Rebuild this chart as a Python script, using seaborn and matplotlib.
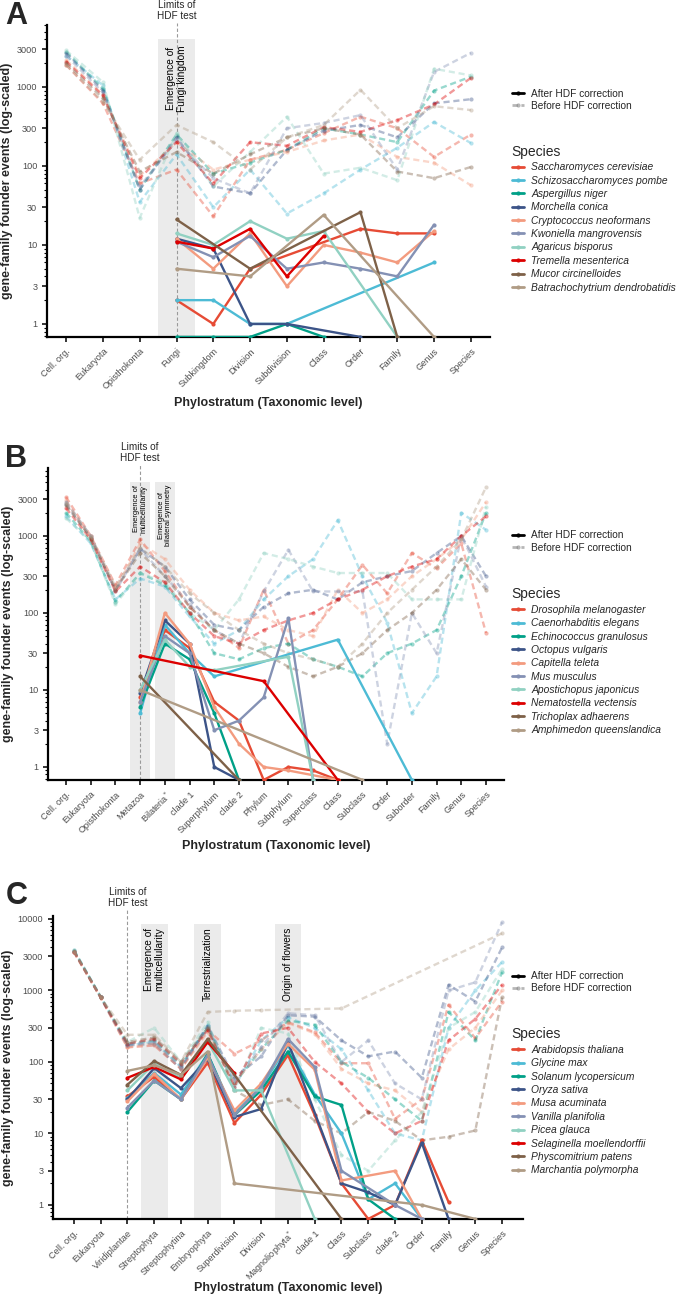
import numpy as np
import pandas as pd
import matplotlib
matplotlib.use("Agg")
import matplotlib.pyplot as plt
import matplotlib.transforms as mtransforms
import seaborn as sns
from matplotlib.lines import Line2D
from matplotlib.ticker import FixedLocator, LogLocator, NullFormatter

sns.set_theme(style="ticks")
plt.rcParams['font.family'] = ['Liberation Sans', 'DejaVu Sans']

n = np.nan
npg = ["#E64B35", "#4DBBD5", "#00A087", "#3C5488", "#F39B7F",
       "#8491B4", "#91D1C2", "#DC0000", "#7E6148", "#B09C85"]

# ---------------- Panel A : fungi ----------------
levels_a = ["Cell. org.", "Eukaryota", "Opisthokonta", "Fungi", "Subkingdom", "Division",
            "Subdivision", "Class", "Order", "Family", "Genus", "Species"]
species_a = ["Saccharomyces cerevisiae", "Schizosaccharomyces pombe", "Aspergillus niger",
             "Morchella conica", "Cryptococcus neoformans", "Kwoniella mangrovensis",
             "Agaricus bisporus", "Tremella mesenterica", "Mucor circinelloides",
             "Batrachochytrium dendrobatidis"]
after_a = [
    [n, n, n, 2, 1, 5, n, n, 16, 14, 14, n],
    [n, n, n, 2, 2, 1, 1, n, n, n, 6, n],
    [n, n, n, 0, 0, 0, 1, 0, n, n, n, n],
    [n, n, n, 12, 9, 1, 1, n, 0, n, n, n],
    [n, n, n, 12, 5, 14, 3, 10, 8, 6, 15, n],
    [n, n, n, 11, 7, 13, 5, 6, 5, 4, 18, n],
    [n, n, n, 14, 10, 20, 12, 15, n, 0, n, n],
    [n, n, n, 11, 9, 16, 4, 13, n, n, n, n],
    [n, n, n, 21, n, 5, n, n, 26, 0, n, n],
    [n, n, n, 5, n, 4, n, 24, n, n, 0, n],
]
before_a = [
    [1900, 620, 60, 90, 23, 120, 160, 260, 420, 300, 130, 250],
    [2500, 1050, 35, 140, 30, 90, 25, 45, 90, 170, 360, 195],
    [2800, 950, 50, 250, 80, 110, 160, 300, 250, 200, 900, 1350],
    [2700, 900, 50, 230, 55, 45, 160, 280, 330, 230, 620, 700],
    [2200, 800, 75, 200, 90, 120, 150, 210, 250, 130, 110, 57],
    [2500, 850, 55, 210, 70, 45, 300, 350, 440, 90, 1550, 2700],
    [2900, 1150, 22, 260, 55, 150, 420, 80, 95, 66, 1700, 1400],
    [2100, 780, 70, 200, 60, 200, 180, 310, 270, 380, 600, 1300],
    [2000, 720, 85, 150, 80, 140, 230, 300, 250, 85, 70, 97],
    [1900, 650, 120, 330, 200, 90, 230, 330, 920, 300, 570, 510],
]

# ---------------- Panel B : animals ----------------
levels_b = ["Cell. org.", "Eukaryota", "Opisthokonta", "Metazoa", "Bilateria$^{*}$", "clade 1",
            "Superphylum", "clade 2", "Phylum", "Subphylum", "Superclass", "Class",
            "Subclass", "Order", "Suborder", "Family", "Genus", "Species"]
species_b = ["Drosophila melanogaster", "Caenorhabditis elegans", "Echinococcus granulosus",
             "Octopus vulgaris", "Capitella teleta", "Mus musculus", "Apostichopus japonicus",
             "Nematostella vectensis", "Trichoplax adhaerens", "Amphimedon queenslandica"]
after_b = [
    [n, n, n, 8, 60, 35, 7, 4, 0, 1, 0.9, 0, n, n, n, n, n, n],
    [n, n, n, 5, 70, 30, 15, n, n, n, n, 45, n, n, 0, n, n, n],
    [n, n, n, 6, 40, 25, 5, 0, n, n, n, n, n, n, n, n, n, n],
    [n, n, n, 9, 80, 40, 1, 0, n, n, n, n, n, n, n, n, n, n],
    [n, n, n, 7, 100, 40, 6, 2, 1, 0.9, n, 0, n, n, n, n, n, n],
    [n, n, n, 7, 50, 30, 3, 4, 8, 85, 0, n, n, n, n, n, n, n],
    [n, n, n, 10, 45, 20, 18, n, n, 27, 0, n, n, n, n, n, n, n],
    [n, n, n, 28, n, n, n, n, 13, n, n, 0, n, n, n, n, n, n],
    [n, n, n, 15, n, n, n, 0, n, n, n, n, n, n, n, n, n, n],
    [n, n, n, 10, n, n, n, n, n, n, n, n, 0, n, n, n, n, n],
]
before_b = [
    [3200, 1000, 230, 900, 350, 120, 60, 35, 200, 40, 60, 150, 420, 180, 600, 380, 800, 55],
    [1800, 800, 150, 280, 220, 90, 40, 60, 150, 300, 500, 1600, 300, 75, 5, 15, 2000, 1200],
    [2000, 850, 140, 330, 230, 100, 30, 25, 35, 40, 25, 20, 15, 30, 40, 60, 300, 2000],
    [2600, 950, 200, 680, 400, 150, 70, 60, 120, 180, 200, 150, 250, 300, 350, 600, 1000, 300],
    [2900, 900, 200, 800, 500, 200, 100, 80, 90, 60, 50, 200, 100, 150, 300, 500, 900, 2750],
    [2800, 1000, 190, 680, 300, 130, 60, 40, 190, 660, 190, 190, 190, 2, 100, 30, 1000, 220],
    [1700, 850, 130, 330, 250, 100, 60, 150, 600, 500, 400, 330, 330, 330, 150, 150, 150, 2400],
    [2300, 900, 190, 400, 250, 100, 50, 40, 60, 80, 100, 150, 200, 300, 400, 500, 1000, 1800],
    [2500, 950, 200, 600, 300, 120, 60, 40, 30, 20, 15, 20, 30, 60, 100, 200, 500, 200],
    [2700, 1000, 220, 700, 400, 180, 100, 60, 40, 30, 25, 20, 40, 100, 200, 400, 900, 4300],
]

# ---------------- Panel C : plants ----------------
levels_c = ["Cell. org.", "Eukaryota", "Viridiplantae", "Streptophyta", "Streptophytina",
            "Embryophyta", "Superdivision", "Division", "Magnoliophyta$^{*}$", "clade 1",
            "Class", "Subclass", "clade 2", "Order", "Family", "Genus", "Species"]
species_c = ["Arabidopsis thaliana", "Glycine max", "Solanum lycopersicum", "Oryza sativa",
             "Musa acuminata", "Vanilla planifolia", "Picea glauca",
             "Selaginella moellendorffii", "Physcomitrium patens", "Marchantia polymorpha"]
after_c = [
    [n, n, 33, 62, 30, 98, 14, 35, 125, 18, 2, 0, 1, 8, 1.1, n, n],
    [n, n, 31, 70, 35, 130, 19, 45, 170, 35, 10, 1.2, 2, 0, n, n, n],
    [n, n, 20, 55, 30, 130, 18, 40, 140, 33, 25, 1.2, 0, n, n, n, n],
    [n, n, 30, 82, 43, 110, 17, 22, 190, n, 2, 1.5, 1.0, 7.4, 0, n, n],
    [n, n, 28, 68, 30, 115, 21, 50, 180, 78, 2.2, n, 3, 0, n, n, n],
    [n, n, 23, 55, 30, 125, 18, 45, 210, 85, 3, n, 1, 0, n, n, n],
    [n, n, 40, 95, 60, 195, 40, 40, n, 0, n, n, n, n, n, n, n],
    [n, n, 60, 85, 57, 190, 70, n, n, n, n, n, n, n, n, n, n],
    [n, n, 48, 103, 66, 210, n, n, n, n, 0, n, n, n, n, n, n],
    [n, n, 75, 90, 66, 140, 2, n, n, n, n, n, n, 1, n, 0, n],
]
before_c = [
    [3500, 800, 160, 170, 80, 280, 130, 200, 360, 260, 96, 96, 16, 30, 630, 215, 700],
    [3700, 820, 170, 190, 85, 330, 45, 200, 420, 300, 150, 40, 10, 8, 300, 1000, 2500],
    [3600, 810, 180, 200, 90, 300, 50, 150, 380, 330, 100, 60, 30, 15, 500, 200, 1800],
    [3500, 800, 170, 180, 80, 320, 60, 120, 450, 430, 200, 120, 140, 60, 1200, 700, 4000],
    [3400, 790, 160, 180, 80, 260, 50, 150, 350, 250, 80, 50, 40, 20, 150, 300, 1000],
    [3600, 800, 175, 195, 85, 300, 55, 160, 480, 450, 100, 200, 50, 30, 1000, 1300, 9000],
    [3700, 820, 190, 300, 100, 360, 40, 300, 250, 30, 5, 3, 8, 20, 300, 500, 2000],
    [3500, 800, 180, 210, 95, 280, 45, 250, 300, 100, 50, 20, 10, 15, 200, 400, 1200],
    [3600, 810, 190, 220, 100, 300, 40, 25, 30, 15, 10, 20, 15, 8, 9, 11, 800],
    [3500, 800, 240, 240, 100, 500, 520, 530, n, n, 560, n, n, n, n, n, 6300],
]


def long_table(species, rows, kind):
    recs = []
    for sp, vals in zip(species, rows):
        for i, v in enumerate(vals):
            if not np.isnan(v):
                recs.append((sp, i, v, kind))
    return pd.DataFrame(recs, columns=["species", "pos", "events", "hdf"])


def draw_panel(ax, levels, species, before, after, ylim, yticks, pad,
               limit_at, bands, band_fs, band_top, band_text_top, limit_y, xlabelpad=4):
    pal = dict(zip(species, npg))
    bef = long_table(species, before, "Before")
    aft = long_table(species, after, "After")
    # zero counts sit on the bottom of the log axis
    bef["y"] = bef["events"].clip(lower=ylim[0])
    aft["y"] = aft["events"].clip(lower=ylim[0])

    blend = mtransforms.blended_transform_factory(ax.transData, ax.transAxes)
    for pos, half, txt in bands:
        ax.axvspan(pos - half, pos + half, ymin=0, ymax=band_top, color="#ebebeb", lw=0, zorder=0)
        ax.text(pos, band_text_top, txt, transform=blend, rotation=90, ha="center", va="top",
                fontsize=band_fs, linespacing=1.05, color="black")
    ax.axvline(limit_at, ymin=0, ymax=limit_y - 0.006, color="#9a9a9a", lw=0.8,
               ls=(0, (3, 2)), clip_on=False, zorder=1)
    ax.text(limit_at, limit_y, "Limits of\nHDF test", transform=blend, ha="center", va="bottom",
            fontsize=7.2, linespacing=1.12)

    sns.lineplot(data=bef, x="pos", y="y", hue="species", hue_order=species, palette=pal,
                 estimator=None, linestyle=(0, (2.6, 1.6)), lw=1.7, alpha=0.4,
                 marker="o", markersize=3, markeredgewidth=0, legend=False, ax=ax, zorder=2)
    sns.lineplot(data=aft, x="pos", y="y", hue="species", hue_order=species, palette=pal,
                 estimator=None, lw=1.7, marker="o", markersize=3, markeredgewidth=0,
                 legend=False, ax=ax, zorder=3)

    ax.set_yscale("log")
    ax.set_ylim(*ylim)
    ax.set_xlim(-pad, len(levels) - 1 + pad)
    ax.yaxis.set_major_locator(FixedLocator(yticks))
    ax.set_yticklabels([str(t) for t in yticks])
    ax.yaxis.set_minor_locator(LogLocator(base=10, subs=np.arange(2, 10)))
    ax.yaxis.set_minor_formatter(NullFormatter())
    ax.set_xticks(range(len(levels)))
    ax.set_xticklabels(levels, rotation=45, ha="right", rotation_mode="anchor")
    ax.tick_params(axis="both", which="major", labelsize=6.6, labelcolor="#4d4d4d",
                   color="black", length=3.5, width=1.1)
    ax.tick_params(axis="y", which="minor", length=2, width=0.8, color="black")
    for side in ["top", "right"]:
        ax.spines[side].set_visible(False)
    for side in ["left", "bottom"]:
        ax.spines[side].set_linewidth(1.6)
        ax.spines[side].set_color("black")
    ax.set_xlabel("Phylostratum (Taxonomic level)", fontsize=9, fontweight="bold",
                  labelpad=xlabelpad)
    ax.set_ylabel("gene-family founder events (log-scaled)", fontsize=9, fontweight="bold",
                  labelpad=3)
    ax.grid(False)


def add_legends(fig, species, x, y_style, y_species):
    style_handles = [
        Line2D([], [], color="black", lw=2, marker="o", ms=3, mew=0),
        Line2D([], [], color="#888888", lw=2, ls=(0, (2, 1.2)), alpha=0.6, marker="o", ms=3, mew=0),
    ]
    fig.legend(style_handles, ["After HDF correction", "Before HDF correction"],
               loc="upper left", bbox_to_anchor=(x, y_style), frameon=False, fontsize=7.3,
               handlelength=1.2, handletextpad=0.7, labelspacing=0.2, borderpad=0,
               borderaxespad=0)
    sp_handles = [Line2D([], [], color=c, lw=2, marker="o", ms=3, mew=0) for c in npg]
    fig.legend(sp_handles, species, loc="upper left", bbox_to_anchor=(x, y_species),
               frameon=False, prop={"size": 7.4, "style": "italic"}, title="Species",
               title_fontsize=10, alignment="left", handlelength=1.2, handletextpad=0.7,
               labelspacing=0.33, borderpad=0, borderaxespad=0)


fig = plt.figure(figsize=(6.85, 12.98), dpi=100)

ax_a = fig.add_axes([0.0686, 0.7404, 0.6467, 0.2404])
draw_panel(ax_a, levels_a, species_a, before_a, after_a, ylim=(0.684, 6100),
           yticks=[1, 3, 10, 30, 100, 300, 1000, 3000], pad=0.52, limit_at=3,
           bands=[(3, 0.5, "Emergence of\nFungi kingdom")], band_fs=7.3, band_top=0.955,
           band_text_top=0.935, limit_y=1.012)

ax_b = fig.add_axes([0.0701, 0.3991, 0.6657, 0.2404])
draw_panel(ax_b, levels_b, species_b, before_b, after_b, ylim=(0.678, 7640),
           yticks=[1, 3, 10, 30, 100, 300, 1000, 3000], pad=0.73, limit_at=3,
           bands=[(3, 0.4, "Emergence of\nmulticellularity"),
                  (4, 0.4, "Emergence of\nbilateral symmetry")],
           band_fs=5.4, band_top=0.955, band_text_top=0.946, limit_y=1.016)

ax_c = fig.add_axes([0.0774, 0.0609, 0.686, 0.2334])
draw_panel(ax_c, levels_c, species_c, before_c, after_c, ylim=(0.637, 11000),
           yticks=[1, 3, 10, 30, 100, 300, 1000, 3000, 10000], pad=0.78, limit_at=2,
           bands=[(3, 0.5, "Emergence of\nmulticellularity"), (5, 0.5, "Terrestrialization"),
                  (8, 0.5, "Origin of flowers")],
           band_fs=7.3, band_top=0.974, band_text_top=0.962, limit_y=1.026, xlabelpad=-2)

add_legends(fig, species_a, 0.747, 0.9318, 0.8885)
add_legends(fig, species_b, 0.747, 0.5913, 0.5475)
add_legends(fig, species_c, 0.747, 0.2516, 0.2085)

for letter, ypos in [("A", 0.999), ("B", 0.658), ("C", 0.321)]:
    fig.text(0.008, ypos, letter, fontsize=22, fontweight="bold", va="top", ha="left")

fig.savefig("out.png", dpi=100)
